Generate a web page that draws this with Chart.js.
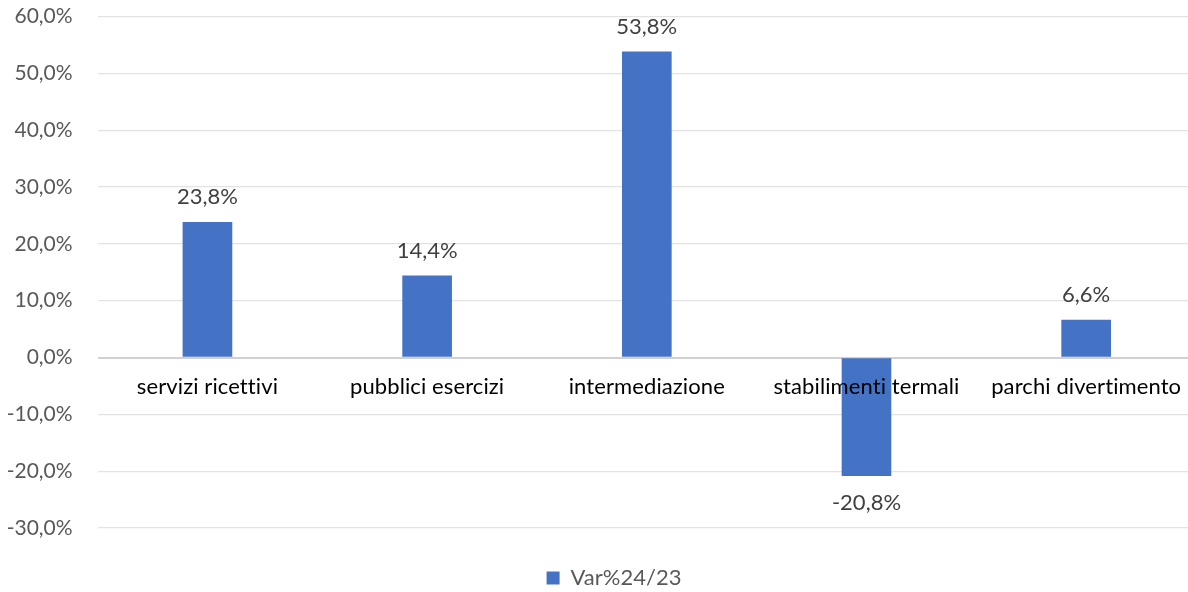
<!DOCTYPE html>
<html>
<head>
<meta charset="utf-8">
<script src="https://cdn.jsdelivr.net/npm/chart.js@4"></script>
<style>
  body { margin: 0; overflow: hidden; background: #fff; }
  #wrap { width: 1196px; height: 622px; margin-top: -21px; }
</style>
</head>
<body>
<div id="wrap"><canvas id="myChart"></canvas></div>
<script>
const categories = ["servizi ricettivi", "pubblici esercizi", "intermediazione", "stabilimenti termali", "parchi divertimento"];
const values = [23.8, 14.4, 53.8, -20.8, 6.6];
const seriesName = "Var%24/23";
const yTicks = [60, 50, 40, 30, 20, 10, 0, -10, -20, -30];

const fmt = (v) => v.toFixed(1).replace(".", ",") + "%";
const FONT = "Lato, 'Open Sans', sans-serif";

// category names sit just under the zero line, drawn on top of the bars
const categoryLabels = {
  id: "categoryLabels",
  afterDatasetsDraw(chart) {
    const ctx = chart.ctx;
    const x = chart.scales.x;
    const y0 = chart.scales.y.getPixelForValue(0);
    ctx.save();
    ctx.font = "22px " + FONT;
    ctx.letterSpacing = "0.1px"; // no ligatures
    ctx.fillStyle = "#000";
    ctx.textAlign = "center";
    ctx.textBaseline = "middle";
    categories.forEach((c, i) => ctx.fillText(c, x.getPixelForValue(i), y0 + 29));
    ctx.restore();
  },
};

const valueLabels = {
  id: "valueLabels",
  afterDatasetsDraw(chart) {
    const ctx = chart.ctx;
    const meta = chart.getDatasetMeta(0);
    ctx.save();
    ctx.font = "22px " + FONT;
    ctx.fillStyle = "#404040";
    ctx.textAlign = "center";
    ctx.textBaseline = "middle";
    meta.data.forEach((bar, i) => {
      const v = values[i];
      const yy = v >= 0 ? bar.y - 25 : bar.y + 27;
      ctx.fillText(fmt(v), bar.x, yy);
    });
    ctx.restore();
  },
};

// nudge the legend a bit right, like the original
const legendShift = {
  id: "legendShift",
  afterLayout(chart) {
    chart.legend.left += 16;
    chart.legend.right += 16;
  },
};

new Chart(document.getElementById("myChart"), {
  type: "bar",
  data: {
    labels: categories,
    datasets: [
      {
        label: seriesName,
        data: values,
        backgroundColor: "#4472C4",
        barThickness: 49,
      },
    ],
  },
  options: {
    responsive: true,
    maintainAspectRatio: false,
    animation: false,
    layout: { padding: { top: 0, left: 0, right: 0, bottom: 2 } },
    scales: {
      x: {
        grid: { display: false },
        border: { display: false },
        ticks: { display: false },
        afterFit: (scale) => { scale.height = 37; },
      },
      y: {
        min: -30,
        max: 60,
        afterBuildTicks: (scale) => { scale.ticks = yTicks.map((v) => ({ value: v })); },
        afterFit: (scale) => { scale.width = 97.6; },
        ticks: {
          padding: 25,
          color: "#595959",
          font: { family: FONT, size: 21 },
          callback: (v) => fmt(v),
        },
        grid: {
          drawTicks: false,
          color: (c) => (c.tick && c.tick.value === 0 ? "#d0d0d0" : "#e3e3e3"),
          lineWidth: (c) => (c.tick && c.tick.value === 0 ? 2 : 1.3),
        },
        border: { display: false },
      },
    },
    plugins: {
      tooltip: { enabled: false },
      legend: {
        position: "bottom",
        labels: {
          boxWidth: 13,
          boxHeight: 13,
          color: "#595959",
          font: { family: FONT, size: 22 },
          padding: 2,
        },
      },
    },
  },
  plugins: [categoryLabels, valueLabels, legendShift],
});
</script>
</body>
</html>
